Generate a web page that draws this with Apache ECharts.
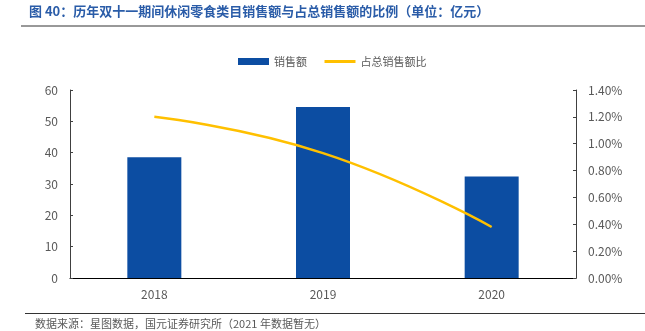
<!DOCTYPE html>
<html>
<head>
<meta charset="utf-8">
<script src="https://cdn.jsdelivr.net/npm/echarts@6/dist/echarts.min.js"></script>
<style>
html,body{margin:0;padding:0;background:#fff;}
#c{width:645px;height:331px;}
</style>
</head>
<body>
<div id="c"></div>
<script>
var categories = ['2018', '2019', '2020'];
var salesValues = [38.5, 54.6, 32.4];
var shareValues = [1.20, 0.93, 0.38];
var titleText = '图 40：历年双十一期间休闲零食类目销售额与占总销售额的比例（单位：亿元）';
var sourceText = '数据来源：星图数据，国元证券研究所（2021 年数据暂无）';

var chart = echarts.init(document.getElementById('c'));
var font = "'Noto Sans CJK SC', 'Noto Sans', sans-serif";
chart.setOption({
  animation: false,
  textStyle: {fontFamily: font},
  graphic: [
    {type: 'text', left: 29, top: 5, style: {text: titleText, fill: '#2A5CA8', font: "bold 13px 'Noto Sans CJK SC'"}},
    {type: 'line', shape: {x1: 21, y1: 26, x2: 645, y2: 26}, style: {stroke: '#333', lineWidth: 1}},
    {type: 'line', shape: {x1: 25, y1: 313.5, x2: 645, y2: 313.5}, style: {stroke: '#333', lineWidth: 1}},
    {type: 'text', left: 35, top: 318, style: {text: sourceText, fill: '#595959', font: "11px 'Noto Sans CJK SC'"}}
  ],
  legend: {
    left: 233, top: 51,
    itemGap: 16,
    textStyle: {color: '#595959', fontSize: 11, fontFamily: font},
    data: [
      {name: '销售额', icon: 'rect', itemStyle: {color: '#0C4DA2'}},
      {name: '占总销售额比', itemStyle: {opacity: 0}, lineStyle: {color: '#FFC000', width: 3}}
    ],
    itemWidth: 31, itemHeight: 7
  },
  grid: {left: 70, right: 69, top: 90, bottom: 53},
  xAxis: {
    type: 'category', data: categories,
    axisLine: {lineStyle: {color: '#000', width: 1}},
    axisTick: {inside: true, length: 4, lineStyle: {color: '#333'}},
    axisLabel: {color: '#595959', fontSize: 12, margin: 10}
  },
  yAxis: [
    {type: 'value', min: 0, max: 60, interval: 10,
     axisLine: {show: true, lineStyle: {color: '#404040'}},
     axisTick: {show: true, inside: true, length: 3, lineStyle: {color: '#404040'}},
     splitLine: {show: false},
     axisLabel: {color: '#595959', fontSize: 12, margin: 12}},
    {type: 'value', min: 0, max: 1.4, interval: 0.2, position: 'right',
     axisLine: {show: true, lineStyle: {color: '#404040'}},
     axisTick: {show: true, inside: true, length: 3, lineStyle: {color: '#404040'}},
     splitLine: {show: false},
     axisLabel: {color: '#595959', fontSize: 12, margin: 12,
       formatter: function (v) { return v.toFixed(2) + '%'; }}}
  ],
  series: [
    {name: '销售额', type: 'bar', data: salesValues, barWidth: 54,
     itemStyle: {color: '#0C4DA2'}},
    {name: '占总销售额比', type: 'line', yAxisIndex: 1, data: shareValues,
     smooth: true, symbol: 'none', lineStyle: {color: '#FFC000', width: 2.5},
     itemStyle: {color: '#FFC000'}}
  ]
});
</script>
</body>
</html>
